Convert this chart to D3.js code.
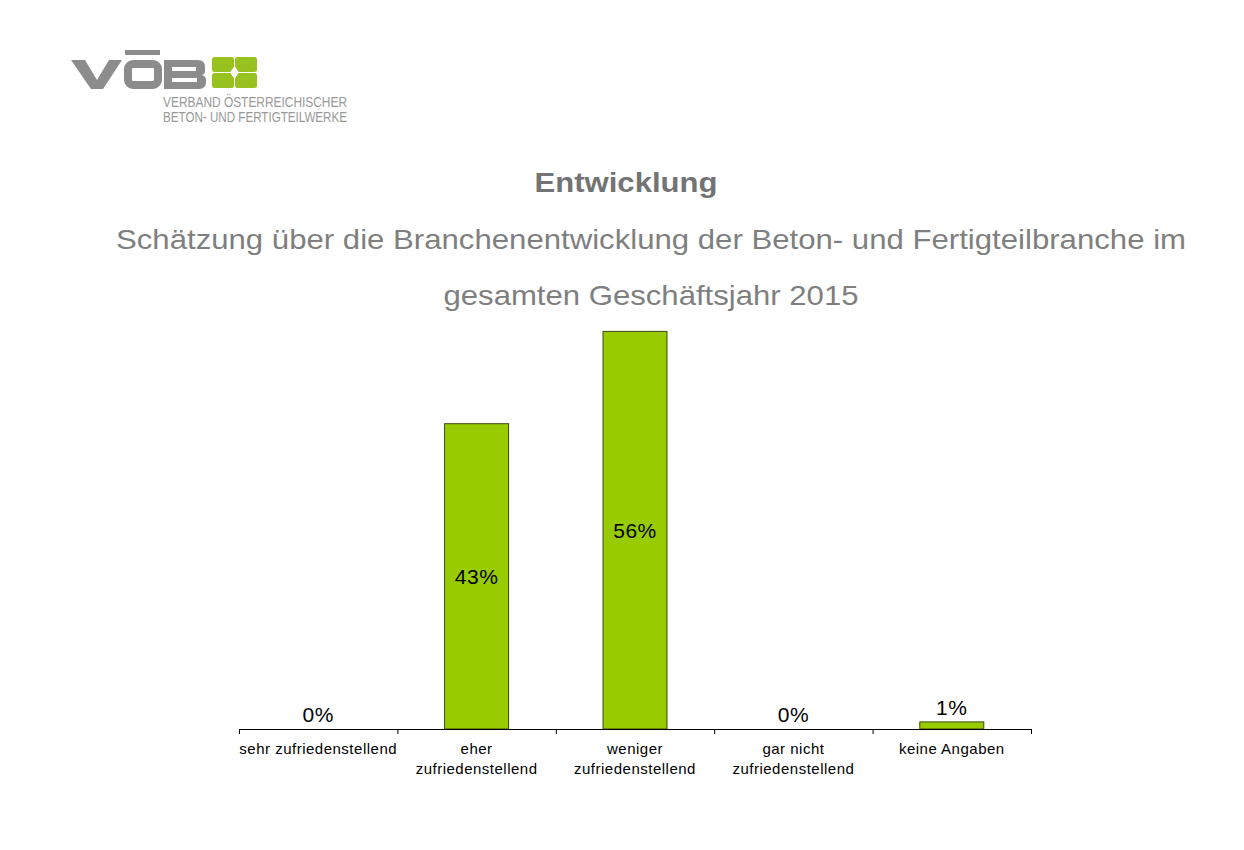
<!DOCTYPE html>
<html>
<head>
<meta charset="utf-8">
<script src="https://cdn.jsdelivr.net/npm/d3@7"></script>
<style>
  body { margin: 0; background: #fff; }
  svg { font-family: "Liberation Sans", Arial, sans-serif; }
</style>
</head>
<body>
<svg id="chart"></svg>
<script>
// categories and values
const categories = [
  ['sehr zufriedenstellend'],
  ['eher', 'zufriedenstellend'],
  ['weniger', 'zufriedenstellend'],
  ['gar nicht', 'zufriedenstellend'],
  ['keine Angaben']
];
const values = [0, 43, 56, 0, 1];
const valueLabels = ['0%', '43%', '56%', '0%', '1%'];

const title = 'Entwicklung';
const subtitle = ['Schätzung über die Branchenentwicklung der Beton- und Fertigteilbranche im',
  'gesamten Geschäftsjahr 2015'];
const logoLines = ['VERBAND ÖSTERREICHISCHER', 'BETON- UND FERTIGTEILWERKE'];

const w = 1244, h = 850;
const svg = d3.select('#chart').attr('width', w).attr('height', h);

// logo
const logo = svg.append('g');
const grey = '#8c8c8c';
// V
logo.append('path')
  .attr('d', 'M71,60 L85,60 L97,80 L109,60 L122,60 L103,89 L91,89 Z')
  .attr('fill', grey);
// Ö
logo.append('rect').attr('x', 128).attr('y', 64).attr('width', 30).attr('height', 21)
  .attr('rx', 5).attr('fill', 'none').attr('stroke', grey).attr('stroke-width', 8);
logo.append('rect').attr('x', 125).attr('y', 50).attr('width', 35).attr('height', 5).attr('fill', grey);
// B
logo.append('path')
  .attr('d', 'M164,60 L198,60 Q205,60 205,67 L205,71 Q205,74 202,75 Q206,76 206,80 L206,82 Q206,89 199,89 L164,89 Z M172,67 L172,71 L196,71 L196,67 Z M172,78 L172,82 L197,82 L197,78 Z')
  .attr('fill', grey).attr('fill-rule', 'evenodd');
// green square
const green = '#98c21f';
[[212, 57], [235, 57], [212, 73], [235, 73]].forEach(([x, y]) => {
  logo.append('rect').attr('x', x).attr('y', y).attr('width', 22).attr('height', 15)
    .attr('rx', 2.5).attr('fill', green);
});
logo.append('path').attr('d', 'M234.5,66 L239,72.5 L234.5,79 L230,72.5 Z').attr('fill', '#fff');
logo.selectAll('text.logo')
  .data(logoLines)
  .enter()
  .append('text')
    .attr('class', 'logo')
    .attr('x', 163)
    .attr('y', (d, i) => 107 + i * 15)
    .attr('textLength', 184)
    .attr('lengthAdjust', 'spacingAndGlyphs')
    .attr('font-size', 14.5)
    .attr('fill', '#999')
    .text(d => d);

// titles
svg.append('text')
  .attr('x', 626).attr('y', 192)
  .attr('text-anchor', 'middle')
  .attr('font-size', 27).attr('font-weight', 'bold')
  .attr('fill', '#737373')
  .attr('textLength', 183)
  .attr('lengthAdjust', 'spacingAndGlyphs')
  .text(title);

svg.selectAll('text.sub')
  .data(subtitle)
  .enter()
  .append('text')
    .attr('class', 'sub')
    .attr('x', 651)
    .attr('y', (d, i) => 249 + i * 56)
    .attr('text-anchor', 'middle')
    .attr('font-size', 28)
    .attr('fill', '#7f7f7f')
    .attr('textLength', (d, i) => i === 0 ? 1070 : 415)
    .attr('lengthAdjust', 'spacingAndGlyphs')
    .text(d => d);

// scales
const band = d3.scaleBand()
  .domain(d3.range(categories.length))
  .range([239, 1031]);
const yScale = d3.scaleLinear()
  .domain([0, 60])
  .range([729, 303]);

// bars
svg.selectAll('rect.bar')
  .data(values)
  .enter()
  .append('rect')
    .attr('class', 'bar')
    .attr('x', (d, i) => band(i) + (band.bandwidth() - 64) / 2)
    .attr('y', d => yScale(d))
    .attr('width', 64)
    .attr('height', d => yScale(0) - yScale(d))
    .attr('fill', '#99cc00')
    .attr('stroke', '#3a4a10')
    .attr('stroke-width', 1);

// value labels
svg.selectAll('text.val')
  .data(values)
  .enter()
  .append('text')
    .attr('class', 'val')
    .attr('x', (d, i) => band(i) + band.bandwidth() / 2)
    .attr('y', d => d > 5 ? (yScale(d) + yScale(0)) / 2 + 8 : yScale(d) - 7)
    .attr('text-anchor', 'middle')
    .attr('font-size', 21)
    .attr('letter-spacing', 0.5)
    .attr('fill', '#000')
    .text((d, i) => valueLabels[i]);

// axis
const axis = svg.append('g');
axis.append('line')
  .attr('x1', 239).attr('x2', 1031)
  .attr('y1', 729.5).attr('y2', 729.5)
  .attr('stroke', '#000');
axis.selectAll('line.tick')
  .data(d3.range(categories.length + 1))
  .enter()
  .append('line')
    .attr('class', 'tick')
    .attr('x1', i => i < categories.length ? band(i) + 0.5 : 1031.5)
    .attr('x2', i => i < categories.length ? band(i) + 0.5 : 1031.5)
    .attr('y1', 729).attr('y2', 734)
    .attr('stroke', '#000');

const catG = svg.selectAll('text.cat')
  .data(categories)
  .enter()
  .append('text')
    .attr('class', 'cat')
    .attr('text-anchor', 'middle')
    .attr('font-size', 15)
    .attr('letter-spacing', 0.5)
    .attr('fill', '#000');
catG.selectAll('tspan')
  .data((d, i) => d.map(t => ({t, i})))
  .enter()
  .append('tspan')
    .attr('x', d => band(d.i) + band.bandwidth() / 2)
    .attr('y', (d, j) => 754 + j * 20)
    .text(d => d.t);
</script>
</body>
</html>
